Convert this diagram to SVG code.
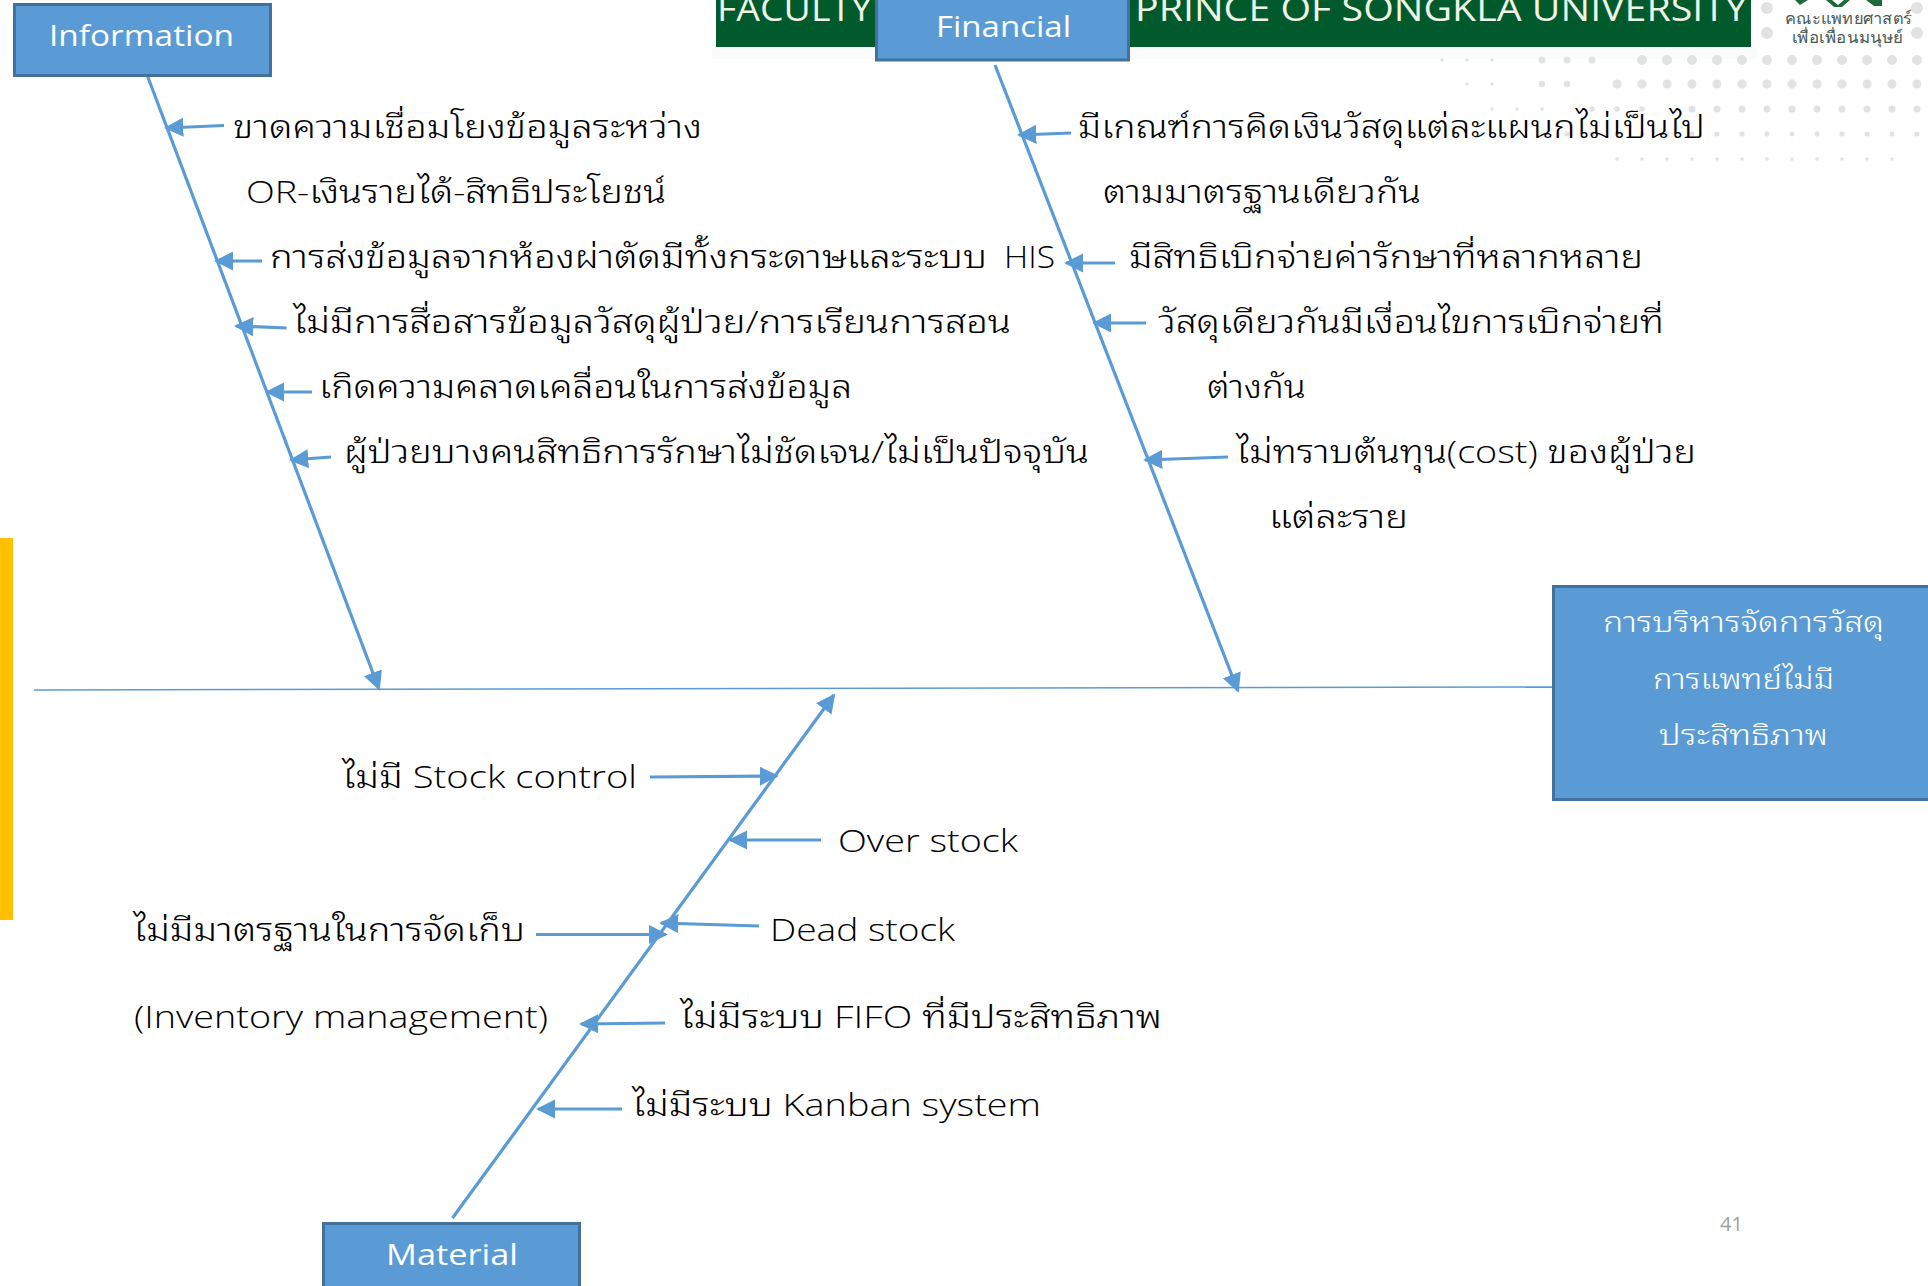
<svg xmlns="http://www.w3.org/2000/svg" width="1928" height="1286" viewBox="0 0 1928 1286">
<defs>
<style>
.box{fill:#5b9bd5;stroke:#41719c;stroke-width:3}
.bone{stroke:#5b9bd5;stroke-width:1.5;fill:none}
.a{stroke:#5b9bd5;stroke-width:3.2;fill:none;marker-end:url(#ah)}
.t{font-family:"Open Sans","Noto Sans Thai Looped","Noto Sans","Noto Sans Thai",sans-serif;font-size:31px;font-weight:300;fill:#000}
.w{font-family:"Open Sans","Noto Sans Thai Looped","Noto Sans","Noto Sans Thai",sans-serif;fill:#fff;font-size:29px;font-weight:300}
.n{font-family:"Open Sans",sans-serif;fill:#fff;font-size:29px;font-weight:400}
.d{fill:none;stroke-linecap:round;stroke:#e2e2e2;stroke-dasharray:0 25}
.h{font-family:"Open Sans",sans-serif;font-size:35px;fill:#eef3e6}
.l{font-family:"Noto Sans",sans-serif;font-size:16px;fill:#4a5a55}
</style>
<marker id="ah" viewBox="0 0 10 10" refX="9" refY="5" markerWidth="6" markerHeight="6" markerUnits="strokeWidth" orient="auto"><path d="M0 0L10 5L0 10z" fill="#5b9bd5"/></marker>
</defs>
<rect width="1928" height="1286" fill="#fff"/>
<rect x="712" y="47" width="1045" height="12" fill="#fafcfc"/>
<g id="dots">
<path class="d" style="stroke-width:3.500" d="M1442 60H1517"/>
<path class="d" style="stroke-width:7" d="M1542 60H1617"/>
<path class="d" style="stroke-width:10" d="M1642 60H1918"/>
<path class="d" style="stroke-width:3.500" d="M1467 84H1517"/>
<path class="d" style="stroke-width:6.500" d="M1542 84H1592"/>
<path class="d" style="stroke-width:9" d="M1617 84H1918"/>
<path class="d" style="stroke-width:3.500" d="M1492 109H1567"/>
<path class="d" style="stroke-width:5.500" d="M1592 109H1667"/>
<path class="d" style="stroke-width:7" d="M1692 109H1918"/>
<path class="d" style="stroke-width:5" d="M1567 134H1918"/>
<path class="d" style="stroke-width:3.500" d="M1617 159H1893"/>
<path class="d" style="stroke-width:12" d="M1767 8V34"/>
<path class="d" style="stroke-width:12" d="M1917 8V34"/>
</g>
<rect x="0" y="538" width="13" height="382" fill="#ffc000"/>
<rect x="716" y="0" width="1035" height="47" fill="#005a2b"/>
<text class="h" x="717" y="21" textLength="155" lengthAdjust="spacingAndGlyphs">FACULTY</text>
<text class="h" x="1135" y="21" textLength="612" lengthAdjust="spacingAndGlyphs">PRINCE OF SONGKLA UNIVERSITY</text>
<path fill="#1d6b3c" d="M1795 0H1808L1800 5zM1826 0H1832L1838 5L1844 0H1850L1842 7H1834zM1866 0H1882V6H1874z"/>
<text class="l" x="1785" y="24" textLength="127" lengthAdjust="spacingAndGlyphs">คณะแพทยศาสตร์</text>
<text class="l" x="1792" y="43" textLength="111" lengthAdjust="spacingAndGlyphs">เพื่อเพื่อนมนุษย์</text>
<g id="connectors">
<path class="bone" d="M34 690L1552 687"/>
<path class="a" d="M147.500 76L379 689"/>
<path class="a" d="M995 65L1238 691"/>
<path class="a" d="M452.500 1218L834 695"/>
<path class="a" d="M224 125.500L166 128"/>
<path class="a" d="M262 261L216 261"/>
<path class="a" d="M286.500 328L236 326"/>
<path class="a" d="M312 392L267 392"/>
<path class="a" d="M331 457L291 460"/>
<path class="a" d="M1071 133L1019 135"/>
<path class="a" d="M1115 263L1066 263"/>
<path class="a" d="M1146 323L1094 323"/>
<path class="a" d="M1228 457L1145 460"/>
<path class="a" d="M650 777L777 776"/>
<path class="a" d="M821 840L730 840"/>
<path class="a" d="M536 934.500L666 934.500"/>
<path class="a" d="M759 926L661 923"/>
<path class="a" d="M665 1023L581 1024"/>
<path class="a" d="M622 1109L538 1109"/>
</g>
<g id="information"><rect class="box" x="14.500" y="4.500" width="256" height="71"/><text class="n" x="49" y="46" textLength="185" lengthAdjust="spacingAndGlyphs">Information</text></g>
<g id="financial"><rect class="box" x="876.500" y="-4" width="252" height="64"/><text class="n" x="936" y="37" textLength="135" lengthAdjust="spacingAndGlyphs">Financial</text></g>
<g id="material"><rect class="box" x="323.500" y="1223.500" width="256" height="70"/><text class="n" x="386" y="1265" textLength="132" lengthAdjust="spacingAndGlyphs">Material</text></g>
<g id="effect"><rect class="box" x="1553.500" y="586.500" width="380" height="213"/>
<text class="w" x="1603" y="632" textLength="281" lengthAdjust="spacingAndGlyphs">การบริหารจัดการวัสดุ</text>
<text class="w" x="1653" y="689" textLength="181" lengthAdjust="spacingAndGlyphs">การแพทย์ไม่มี</text>
<text class="w" x="1659" y="745" textLength="169" lengthAdjust="spacingAndGlyphs">ประสิทธิภาพ</text></g>
<g id="information-causes">
<text class="t" x="233" y="138" textLength="469" lengthAdjust="spacingAndGlyphs">ขาดความเชื่อมโยงข้อมูลระหว่าง</text>
<text class="t" x="246" y="203" textLength="420" lengthAdjust="spacingAndGlyphs">OR-เงินรายได้-สิทธิประโยชน์</text>
<text class="t" y="268"><tspan x="270" textLength="717" lengthAdjust="spacingAndGlyphs">การส่งข้อมูลจากห้องผ่าตัดมีทั้งกระดาษและระบบ</tspan> <tspan x="1004" textLength="51" lengthAdjust="spacingAndGlyphs">HIS</tspan></text>
<text class="t" x="293" y="333" textLength="718" lengthAdjust="spacingAndGlyphs">ไม่มีการสื่อสารข้อมูลวัสดุผู้ป่วย/การเรียนการสอน</text>
<text class="t" x="319" y="398" textLength="533" lengthAdjust="spacingAndGlyphs">เกิดความคลาดเคลื่อนในการส่งข้อมูล</text>
<text class="t" x="344" y="463" textLength="745" lengthAdjust="spacingAndGlyphs">ผู้ป่วยบางคนสิทธิการรักษาไม่ชัดเจน/ไม่เป็นปัจจุบัน</text>
</g>
<g id="financial-causes">
<text class="t" x="1078" y="138" textLength="627" lengthAdjust="spacingAndGlyphs">มีเกณฑ์การคิดเงินวัสดุแต่ละแผนกไม่เป็นไป</text>
<text class="t" x="1103" y="203" textLength="318" lengthAdjust="spacingAndGlyphs">ตามมาตรฐานเดียวกัน</text>
<text class="t" x="1129" y="268" textLength="514" lengthAdjust="spacingAndGlyphs">มีสิทธิเบิกจ่ายค่ารักษาที่หลากหลาย</text>
<text class="t" x="1158" y="333" textLength="506" lengthAdjust="spacingAndGlyphs">วัสดุเดียวกันมีเงื่อนไขการเบิกจ่ายที่</text>
<text class="t" x="1207" y="398" textLength="99" lengthAdjust="spacingAndGlyphs">ต่างกัน</text>
<text class="t" x="1236" y="463" textLength="460" lengthAdjust="spacingAndGlyphs">ไม่ทราบต้นทุน(cost) ของผู้ป่วย</text>
<text class="t" x="1269" y="528" textLength="139" lengthAdjust="spacingAndGlyphs">แต่ละราย</text>
</g>
<g id="material-causes">
<text class="t" x="342" y="788" textLength="295" lengthAdjust="spacingAndGlyphs">ไม่มี Stock control</text>
<text class="t" x="838" y="852" textLength="180" lengthAdjust="spacingAndGlyphs">Over stock</text>
<text class="t" x="133" y="941" textLength="392" lengthAdjust="spacingAndGlyphs">ไม่มีมาตรฐานในการจัดเก็บ</text>
<text class="t" x="770" y="941" textLength="185" lengthAdjust="spacingAndGlyphs">Dead stock</text>
<text class="t" x="134" y="1028" textLength="414" lengthAdjust="spacingAndGlyphs">(Inventory management)</text>
<text class="t" x="680" y="1028" textLength="482" lengthAdjust="spacingAndGlyphs">ไม่มีระบบ FIFO ที่มีประสิทธิภาพ</text>
<text class="t" x="632" y="1116" textLength="409" lengthAdjust="spacingAndGlyphs">ไม่มีระบบ Kanban system</text>
</g>
<text x="1720" y="1231" font-family="Open Sans,sans-serif" font-size="20" fill="#a0a0a0">41</text>
</svg>
